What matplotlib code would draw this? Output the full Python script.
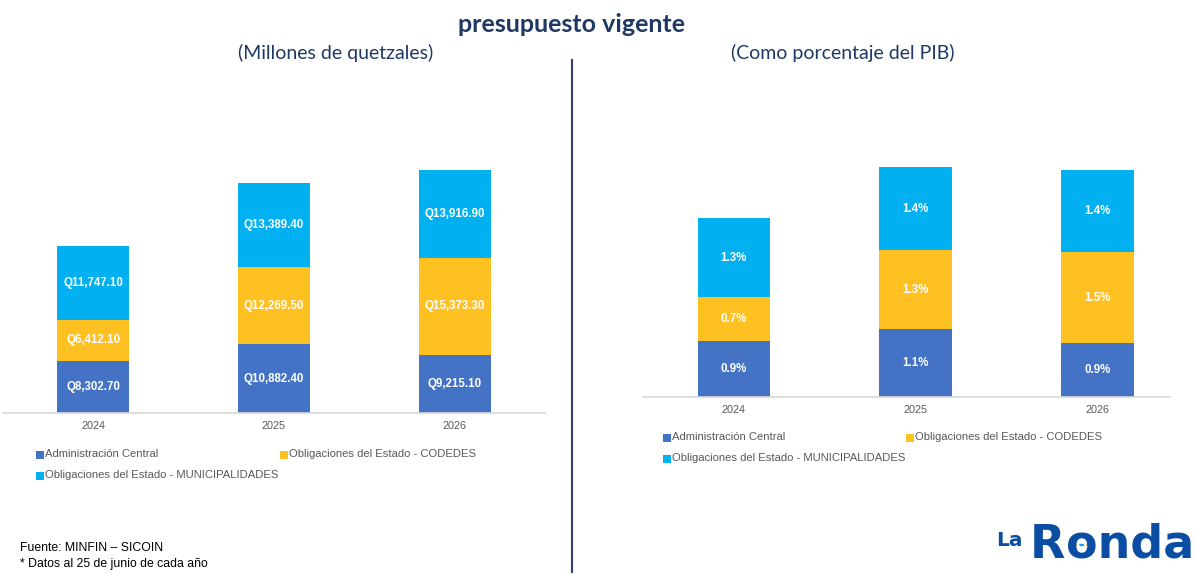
import matplotlib
matplotlib.use("Agg")
import matplotlib.pyplot as plt
from matplotlib.patches import Rectangle, Circle
from matplotlib.lines import Line2D

# ---- data ----
years = ["2024", "2025", "2026"]
series_names = ["Administración Central",
                "Obligaciones del Estado - CODEDES",
                "Obligaciones del Estado - MUNICIPALIDADES"]
admin_q = [8302.70, 10882.40, 9215.10]
codedes_q = [6412.10, 12269.50, 15373.30]
muni_q = [11747.10, 13389.40, 13916.90]
admin_pib = [0.92, 1.12, 0.89]
codedes_pib = [0.72, 1.29, 1.49]
muni_pib = [1.30, 1.37, 1.36]

colors = ["#4472C4", "#FFC022", "#00B0F0"]
navy = "#1F3864"
W, H = 1198, 574

fig = plt.figure(figsize=(W / 100, H / 100), dpi=100)
fig.patch.set_facecolor("white")


def px_rect(x0, x1, ybase, ytop):
    return [x0 / W, 1 - ybase / H, (x1 - x0) / W, (ybase - ytop) / H]


def stacked(ax, series, fmt, xlim, ylim, tick_pad):
    x = list(range(len(years)))
    bottom = [0] * len(years)
    for vals, c in zip(series, colors):
        bars = ax.bar(x, vals, 0.4, bottom=bottom, color=c, edgecolor="none", zorder=2)
        for b, v, bt in zip(bars, vals, bottom):
            ax.text(b.get_x() + b.get_width() / 2, bt + v / 2, fmt(v),
                    ha="center", va="center", color="white", fontsize=8.3,
                    fontweight="bold", family="Liberation Sans", zorder=3)
        bottom = [bt + v for bt, v in zip(bottom, vals)]
    ax.set_xlim(*xlim)
    ax.set_ylim(*ylim)
    ax.set_xticks(x)
    ax.set_xticklabels(years, fontsize=7.8, color="#595959", family="Liberation Sans")
    ax.tick_params(axis="x", length=0, pad=tick_pad)
    ax.set_yticks([])
    for s in ["top", "right", "left"]:
        ax.spines[s].set_visible(False)
    ax.spines["bottom"].set_color("#D9D9D9")
    ax.spines["bottom"].set_linewidth(1.2)
    ax.set_facecolor("none")


ax1 = fig.add_axes(px_rect(3, 545, 413, 100.5))
stacked(ax1, [admin_q, codedes_q, muni_q], lambda v: f"Q{v:,.2f}",
        (-0.5, 2.5), (0, 49565), 6)

ax2 = fig.add_axes(px_rect(643, 1170, 397, 95))
stacked(ax2, [admin_pib, codedes_pib, muni_pib], lambda v: f"{v:.1f}%",
        (-0.5, 2.4), (0, 302 / 60.8), 6)


def legend(positions):
    for (xp, yp), name, c in zip(positions, series_names, colors):
        fig.add_artist(Rectangle((xp / W, 1 - (yp + 4.5) / H), 7.5 / W, 7.5 / H,
                                 transform=fig.transFigure, color=c, lw=0))
        fig.text((xp + 9) / W, 1 - yp / H, name, fontsize=8.1, color="#595959",
                 family="Liberation Sans", va="center", ha="left")


legend([(36, 454), (280, 454), (36, 475)])
legend([(663, 437), (906, 437), (663, 458)])

# titles
fig.text(572 / W, 1 - 25 / H, "presupuesto vigente", ha="center", va="center",
         fontsize=18, fontweight="bold", color=navy, family="Lato")
fig.text(336 / W, 1 - 53 / H, "(Millones de quetzales)", ha="center", va="center",
         fontsize=14, color=navy, family="Lato")
fig.text(843 / W, 1 - 53 / H, "(Como porcentaje del PIB)", ha="center", va="center",
         fontsize=14, color=navy, family="Lato")

# divider
fig.add_artist(Line2D([572 / W, 572 / W], [1 - 60 / H, 1 - 572 / H],
                      transform=fig.transFigure, color="#2F3E78", lw=1.5))

# footer
fig.text(20 / W, 1 - 548 / H, "Fuente: MINFIN – SICOIN", fontsize=8.8, color="black",
         family="Liberation Sans", va="center", ha="left")
fig.text(20 / W, 1 - 564 / H, "* Datos al 25 de junio de cada año", fontsize=8.8,
         color="black", family="Liberation Sans", va="center", ha="left")

# logo
logo = "#0B4DA2"
fig.text(996 / W, 1 - 546 / H, "La", fontsize=14.5, fontweight="bold", color=logo,
         family="DejaVu Sans", va="baseline", ha="left")
t_r = fig.text(1030 / W, 1 - 558 / H, "R", fontsize=33, fontweight="bold", color=logo,
               family="DejaVu Sans", va="baseline", ha="left")
fig.canvas.draw()
r_ext = t_r.get_window_extent()
fig.text(r_ext.x1 / W + 0.5 / W, 1 - 558 / H, "onda", fontsize=33,
         fontweight="bold", color=logo, family="DejaVu Sans",
         va="baseline", ha="left")
tmp = fig.text(0, 0, "o", fontsize=33, fontweight="bold", family="DejaVu Sans")
fig.canvas.draw()
o_w = tmp.get_window_extent().width
tmp.remove()
ocx = r_ext.x1 + 0.5 + o_w / 2
ocy = H - 545
for dx, c in [(-7, "#F4A947"), (0, "#1E9BF0"), (7, "#F4A947")]:
    fig.add_artist(Circle(((ocx + dx) / W, ocy / H), 2.6 / W, transform=fig.transFigure,
                          color=c, lw=0))

fig.savefig("out.png", dpi=100)
